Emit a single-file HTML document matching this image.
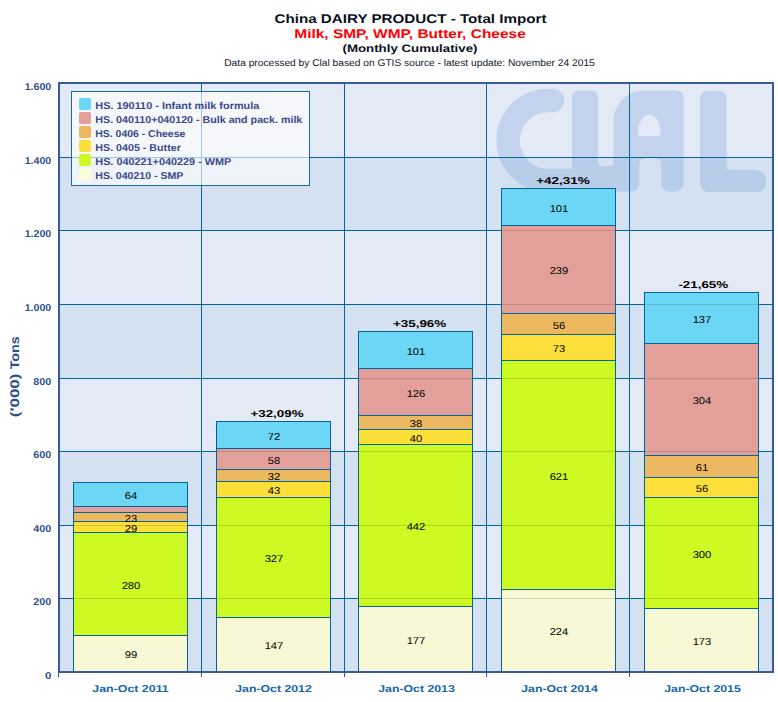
<!DOCTYPE html><html><head><meta charset="utf-8"><style>
html,body{margin:0;padding:0;background:#fff;width:778px;height:702px;overflow:hidden}
svg{display:block}
text{font-family:"Liberation Sans", sans-serif;text-rendering:geometricPrecision}
</style></head><body>
<svg width="778" height="702" viewBox="0 0 778 702">
<text x="410.5" y="22.7" font-size="12.6" fill="#0a0f1e" font-weight="bold" text-anchor="middle" textLength="272" lengthAdjust="spacingAndGlyphs" >China DAIRY PRODUCT - Total Import</text>
<text x="410" y="37.8" font-size="12.6" fill="#ff0000" font-weight="bold" text-anchor="middle" textLength="231.5" lengthAdjust="spacingAndGlyphs" >Milk, SMP, WMP, Butter, Cheese</text>
<text x="410" y="52.2" font-size="10.8" fill="#0a0f1e" font-weight="bold" text-anchor="middle" textLength="135" lengthAdjust="spacingAndGlyphs" >(Monthly Cumulative)</text>
<text x="409.5" y="66" font-size="9.8" fill="#10172a" font-weight="normal" text-anchor="middle" textLength="370.5" lengthAdjust="spacingAndGlyphs" >Data processed by Clal based on GTIS source - latest update: November 24 2015</text>
<rect x="60" y="84" width="712" height="73" fill="#e4eaf5" shape-rendering="crispEdges" />
<rect x="60" y="158" width="712" height="72" fill="#d3e1f0" shape-rendering="crispEdges" />
<rect x="60" y="231" width="712" height="73" fill="#e4eaf5" shape-rendering="crispEdges" />
<rect x="60" y="305" width="712" height="73" fill="#d3e1f0" shape-rendering="crispEdges" />
<rect x="60" y="379" width="712" height="72" fill="#e4eaf5" shape-rendering="crispEdges" />
<rect x="60" y="452" width="712" height="73" fill="#d3e1f0" shape-rendering="crispEdges" />
<rect x="60" y="526" width="712" height="72" fill="#e4eaf5" shape-rendering="crispEdges" />
<rect x="60" y="599" width="712" height="72" fill="#d3e1f0" shape-rendering="crispEdges" />
<g opacity="0.27" fill="#6f98d8">
<path d="M 552.5 100.6 L 548 100.6 A 39.9 39.9 0 0 0 548 180.4 L 575 180.4" fill="none" stroke="#6f98d8" stroke-width="23.5" stroke-linecap="round"/>
<path d="M 572 97 Q 572 90.5 578 90.5 L 592 90.5 Q 598 90.5 598 97 L 598 163 Q 598 166 601 166 L 610.5 166 Q 613.5 166 613.5 163 L 613.5 121 C 613.5 104.2 627.3 90.5 644 90.5 L 676 90.5 Q 683.7 90.5 683.7 98 L 683.7 181 Q 683.7 192 672.5 192 Q 661.2 192 661.2 181 L 661.2 164 Q 661.2 158 655 158 L 645.5 158 Q 639.3 158 639.3 164 L 639.3 183 Q 639.3 191.5 631 191.5 L 575 191.5 L 572 170 Z"/>
<path d="M 640.5 136 L 658 136 Q 660.5 136 660.5 133 C 660.5 124 656 114.8 649.25 114.8 C 642.5 114.8 638 124 638 133 Q 638 136 640.5 136 Z" fill="#e4eaf5" opacity="1"/>
<path d="M 700 99 Q 700 91 708 91 L 719 91 Q 726.7 91 726.7 99 L 726.7 167 Q 726.7 170 730 170 L 755 170 Q 766 170 766 181 Q 766 192 755 192 L 710 192 Q 700 192 700 182 Z"/>
</g>
<rect x="201" y="84" width="1" height="587" fill="#03669b" shape-rendering="crispEdges" />
<rect x="344" y="84" width="1" height="587" fill="#03669b" shape-rendering="crispEdges" />
<rect x="486" y="84" width="1" height="587" fill="#03669b" shape-rendering="crispEdges" />
<rect x="629" y="84" width="1" height="587" fill="#03669b" shape-rendering="crispEdges" />
<rect x="60" y="157" width="712" height="1" fill="#03669b" shape-rendering="crispEdges" />
<rect x="60" y="230" width="712" height="1" fill="#03669b" shape-rendering="crispEdges" />
<rect x="60" y="304" width="712" height="1" fill="#03669b" shape-rendering="crispEdges" />
<rect x="60" y="378" width="712" height="1" fill="#03669b" shape-rendering="crispEdges" />
<rect x="60" y="451" width="712" height="1" fill="#03669b" shape-rendering="crispEdges" />
<rect x="60" y="525" width="712" height="1" fill="#03669b" shape-rendering="crispEdges" />
<rect x="60" y="598" width="712" height="1" fill="#03669b" shape-rendering="crispEdges" />
<rect x="73" y="635" width="115" height="36" fill="#f8f8d4" shape-rendering="crispEdges" />
<rect x="73" y="532" width="115" height="103" fill="#cdfa22" shape-rendering="crispEdges" />
<rect x="73" y="521" width="115" height="11" fill="#fddf3a" shape-rendering="crispEdges" />
<rect x="73" y="512" width="115" height="9" fill="#ecb85f" shape-rendering="crispEdges" />
<rect x="73" y="506" width="115" height="6" fill="#e3a09b" shape-rendering="crispEdges" />
<rect x="73" y="482" width="115" height="24" fill="#6cd6f5" shape-rendering="crispEdges" />
<rect x="73" y="482" width="1" height="189" fill="#03649a" shape-rendering="crispEdges" />
<rect x="187" y="482" width="1" height="189" fill="#03649a" shape-rendering="crispEdges" />
<rect x="73" y="635" width="115" height="1" fill="#03649a" shape-rendering="crispEdges" />
<rect x="73" y="532" width="115" height="1" fill="#03649a" shape-rendering="crispEdges" />
<rect x="73" y="521" width="115" height="1" fill="#03649a" shape-rendering="crispEdges" />
<rect x="73" y="512" width="115" height="1" fill="#03649a" shape-rendering="crispEdges" />
<rect x="73" y="506" width="115" height="1" fill="#03649a" shape-rendering="crispEdges" />
<rect x="73" y="482" width="115" height="1" fill="#03649a" shape-rendering="crispEdges" />
<rect x="216" y="617" width="115" height="54" fill="#f8f8d4" shape-rendering="crispEdges" />
<rect x="216" y="497" width="115" height="120" fill="#cdfa22" shape-rendering="crispEdges" />
<rect x="216" y="481" width="115" height="16" fill="#fddf3a" shape-rendering="crispEdges" />
<rect x="216" y="469" width="115" height="12" fill="#ecb85f" shape-rendering="crispEdges" />
<rect x="216" y="448" width="115" height="21" fill="#e3a09b" shape-rendering="crispEdges" />
<rect x="216" y="421" width="115" height="27" fill="#6cd6f5" shape-rendering="crispEdges" />
<rect x="216" y="421" width="1" height="250" fill="#03649a" shape-rendering="crispEdges" />
<rect x="330" y="421" width="1" height="250" fill="#03649a" shape-rendering="crispEdges" />
<rect x="216" y="617" width="115" height="1" fill="#03649a" shape-rendering="crispEdges" />
<rect x="216" y="497" width="115" height="1" fill="#03649a" shape-rendering="crispEdges" />
<rect x="216" y="481" width="115" height="1" fill="#03649a" shape-rendering="crispEdges" />
<rect x="216" y="469" width="115" height="1" fill="#03649a" shape-rendering="crispEdges" />
<rect x="216" y="448" width="115" height="1" fill="#03649a" shape-rendering="crispEdges" />
<rect x="216" y="421" width="115" height="1" fill="#03649a" shape-rendering="crispEdges" />
<rect x="358" y="606" width="115" height="65" fill="#f8f8d4" shape-rendering="crispEdges" />
<rect x="358" y="444" width="115" height="162" fill="#cdfa22" shape-rendering="crispEdges" />
<rect x="358" y="429" width="115" height="15" fill="#fddf3a" shape-rendering="crispEdges" />
<rect x="358" y="415" width="115" height="14" fill="#ecb85f" shape-rendering="crispEdges" />
<rect x="358" y="368" width="115" height="47" fill="#e3a09b" shape-rendering="crispEdges" />
<rect x="358" y="331" width="115" height="37" fill="#6cd6f5" shape-rendering="crispEdges" />
<rect x="358" y="331" width="1" height="340" fill="#03649a" shape-rendering="crispEdges" />
<rect x="472" y="331" width="1" height="340" fill="#03649a" shape-rendering="crispEdges" />
<rect x="358" y="606" width="115" height="1" fill="#03649a" shape-rendering="crispEdges" />
<rect x="358" y="444" width="115" height="1" fill="#03649a" shape-rendering="crispEdges" />
<rect x="358" y="429" width="115" height="1" fill="#03649a" shape-rendering="crispEdges" />
<rect x="358" y="415" width="115" height="1" fill="#03649a" shape-rendering="crispEdges" />
<rect x="358" y="368" width="115" height="1" fill="#03649a" shape-rendering="crispEdges" />
<rect x="358" y="331" width="115" height="1" fill="#03649a" shape-rendering="crispEdges" />
<rect x="501" y="589" width="115" height="82" fill="#f8f8d4" shape-rendering="crispEdges" />
<rect x="501" y="360" width="115" height="229" fill="#cdfa22" shape-rendering="crispEdges" />
<rect x="501" y="334" width="115" height="26" fill="#fddf3a" shape-rendering="crispEdges" />
<rect x="501" y="313" width="115" height="21" fill="#ecb85f" shape-rendering="crispEdges" />
<rect x="501" y="225" width="115" height="88" fill="#e3a09b" shape-rendering="crispEdges" />
<rect x="501" y="188" width="115" height="37" fill="#6cd6f5" shape-rendering="crispEdges" />
<rect x="501" y="188" width="1" height="483" fill="#03649a" shape-rendering="crispEdges" />
<rect x="615" y="188" width="1" height="483" fill="#03649a" shape-rendering="crispEdges" />
<rect x="501" y="589" width="115" height="1" fill="#03649a" shape-rendering="crispEdges" />
<rect x="501" y="360" width="115" height="1" fill="#03649a" shape-rendering="crispEdges" />
<rect x="501" y="334" width="115" height="1" fill="#03649a" shape-rendering="crispEdges" />
<rect x="501" y="313" width="115" height="1" fill="#03649a" shape-rendering="crispEdges" />
<rect x="501" y="225" width="115" height="1" fill="#03649a" shape-rendering="crispEdges" />
<rect x="501" y="188" width="115" height="1" fill="#03649a" shape-rendering="crispEdges" />
<rect x="644" y="608" width="115" height="63" fill="#f8f8d4" shape-rendering="crispEdges" />
<rect x="644" y="497" width="115" height="111" fill="#cdfa22" shape-rendering="crispEdges" />
<rect x="644" y="477" width="115" height="20" fill="#fddf3a" shape-rendering="crispEdges" />
<rect x="644" y="455" width="115" height="22" fill="#ecb85f" shape-rendering="crispEdges" />
<rect x="644" y="343" width="115" height="112" fill="#e3a09b" shape-rendering="crispEdges" />
<rect x="644" y="292" width="115" height="51" fill="#6cd6f5" shape-rendering="crispEdges" />
<rect x="644" y="292" width="1" height="379" fill="#03649a" shape-rendering="crispEdges" />
<rect x="758" y="292" width="1" height="379" fill="#03649a" shape-rendering="crispEdges" />
<rect x="644" y="608" width="115" height="1" fill="#03649a" shape-rendering="crispEdges" />
<rect x="644" y="497" width="115" height="1" fill="#03649a" shape-rendering="crispEdges" />
<rect x="644" y="477" width="115" height="1" fill="#03649a" shape-rendering="crispEdges" />
<rect x="644" y="455" width="115" height="1" fill="#03649a" shape-rendering="crispEdges" />
<rect x="644" y="343" width="115" height="1" fill="#03649a" shape-rendering="crispEdges" />
<rect x="644" y="292" width="115" height="1" fill="#03649a" shape-rendering="crispEdges" />
<rect x="74" y="525" width="113" height="1" fill="rgba(10,40,0,0.16)" shape-rendering="crispEdges" />
<rect x="74" y="598" width="113" height="1" fill="rgba(10,40,0,0.16)" shape-rendering="crispEdges" />
<rect x="217" y="451" width="113" height="1" fill="rgba(10,40,0,0.16)" shape-rendering="crispEdges" />
<rect x="217" y="525" width="113" height="1" fill="rgba(10,40,0,0.16)" shape-rendering="crispEdges" />
<rect x="217" y="598" width="113" height="1" fill="rgba(10,40,0,0.16)" shape-rendering="crispEdges" />
<rect x="359" y="378" width="113" height="1" fill="rgba(10,40,0,0.16)" shape-rendering="crispEdges" />
<rect x="359" y="451" width="113" height="1" fill="rgba(10,40,0,0.16)" shape-rendering="crispEdges" />
<rect x="359" y="525" width="113" height="1" fill="rgba(10,40,0,0.16)" shape-rendering="crispEdges" />
<rect x="359" y="598" width="113" height="1" fill="rgba(10,40,0,0.16)" shape-rendering="crispEdges" />
<rect x="502" y="230" width="113" height="1" fill="rgba(10,40,0,0.16)" shape-rendering="crispEdges" />
<rect x="502" y="304" width="113" height="1" fill="rgba(10,40,0,0.16)" shape-rendering="crispEdges" />
<rect x="502" y="378" width="113" height="1" fill="rgba(10,40,0,0.16)" shape-rendering="crispEdges" />
<rect x="502" y="451" width="113" height="1" fill="rgba(10,40,0,0.16)" shape-rendering="crispEdges" />
<rect x="502" y="525" width="113" height="1" fill="rgba(10,40,0,0.16)" shape-rendering="crispEdges" />
<rect x="502" y="598" width="113" height="1" fill="rgba(10,40,0,0.16)" shape-rendering="crispEdges" />
<rect x="645" y="304" width="113" height="1" fill="rgba(10,40,0,0.16)" shape-rendering="crispEdges" />
<rect x="645" y="378" width="113" height="1" fill="rgba(10,40,0,0.16)" shape-rendering="crispEdges" />
<rect x="645" y="451" width="113" height="1" fill="rgba(10,40,0,0.16)" shape-rendering="crispEdges" />
<rect x="645" y="525" width="113" height="1" fill="rgba(10,40,0,0.16)" shape-rendering="crispEdges" />
<rect x="645" y="598" width="113" height="1" fill="rgba(10,40,0,0.16)" shape-rendering="crispEdges" />
<text x="131.0" y="658.2" font-size="10" fill="#000" font-weight="normal" text-anchor="middle" textLength="12.5" lengthAdjust="spacingAndGlyphs" >99</text>
<text x="131.0" y="588.7" font-size="10" fill="#000" font-weight="normal" text-anchor="middle" textLength="18.75" lengthAdjust="spacingAndGlyphs" >280</text>
<text x="131.0" y="531.7" font-size="10" fill="#000" font-weight="normal" text-anchor="middle" textLength="12.5" lengthAdjust="spacingAndGlyphs" >29</text>
<text x="131.0" y="521.7" font-size="10" fill="#000" font-weight="normal" text-anchor="middle" textLength="12.5" lengthAdjust="spacingAndGlyphs" >23</text>
<text x="131.0" y="499.2" font-size="10" fill="#000" font-weight="normal" text-anchor="middle" textLength="12.5" lengthAdjust="spacingAndGlyphs" >64</text>
<text x="274.0" y="649.2" font-size="10" fill="#000" font-weight="normal" text-anchor="middle" textLength="18.75" lengthAdjust="spacingAndGlyphs" >147</text>
<text x="274.0" y="562.2" font-size="10" fill="#000" font-weight="normal" text-anchor="middle" textLength="18.75" lengthAdjust="spacingAndGlyphs" >327</text>
<text x="274.0" y="494.2" font-size="10" fill="#000" font-weight="normal" text-anchor="middle" textLength="12.5" lengthAdjust="spacingAndGlyphs" >43</text>
<text x="274.0" y="480.2" font-size="10" fill="#000" font-weight="normal" text-anchor="middle" textLength="12.5" lengthAdjust="spacingAndGlyphs" >32</text>
<text x="274.0" y="463.7" font-size="10" fill="#000" font-weight="normal" text-anchor="middle" textLength="12.5" lengthAdjust="spacingAndGlyphs" >58</text>
<text x="274.0" y="439.7" font-size="10" fill="#000" font-weight="normal" text-anchor="middle" textLength="12.5" lengthAdjust="spacingAndGlyphs" >72</text>
<text x="416.0" y="643.7" font-size="10" fill="#000" font-weight="normal" text-anchor="middle" textLength="18.75" lengthAdjust="spacingAndGlyphs" >177</text>
<text x="416.0" y="530.2" font-size="10" fill="#000" font-weight="normal" text-anchor="middle" textLength="18.75" lengthAdjust="spacingAndGlyphs" >442</text>
<text x="416.0" y="441.7" font-size="10" fill="#000" font-weight="normal" text-anchor="middle" textLength="12.5" lengthAdjust="spacingAndGlyphs" >40</text>
<text x="416.0" y="427.2" font-size="10" fill="#000" font-weight="normal" text-anchor="middle" textLength="12.5" lengthAdjust="spacingAndGlyphs" >38</text>
<text x="416.0" y="396.7" font-size="10" fill="#000" font-weight="normal" text-anchor="middle" textLength="18.75" lengthAdjust="spacingAndGlyphs" >126</text>
<text x="416.0" y="354.7" font-size="10" fill="#000" font-weight="normal" text-anchor="middle" textLength="18.75" lengthAdjust="spacingAndGlyphs" >101</text>
<text x="559.0" y="635.2" font-size="10" fill="#000" font-weight="normal" text-anchor="middle" textLength="18.75" lengthAdjust="spacingAndGlyphs" >224</text>
<text x="559.0" y="479.7" font-size="10" fill="#000" font-weight="normal" text-anchor="middle" textLength="18.75" lengthAdjust="spacingAndGlyphs" >621</text>
<text x="559.0" y="352.2" font-size="10" fill="#000" font-weight="normal" text-anchor="middle" textLength="12.5" lengthAdjust="spacingAndGlyphs" >73</text>
<text x="559.0" y="328.7" font-size="10" fill="#000" font-weight="normal" text-anchor="middle" textLength="12.5" lengthAdjust="spacingAndGlyphs" >56</text>
<text x="559.0" y="274.2" font-size="10" fill="#000" font-weight="normal" text-anchor="middle" textLength="18.75" lengthAdjust="spacingAndGlyphs" >239</text>
<text x="559.0" y="211.7" font-size="10" fill="#000" font-weight="normal" text-anchor="middle" textLength="18.75" lengthAdjust="spacingAndGlyphs" >101</text>
<text x="702.0" y="644.7" font-size="10" fill="#000" font-weight="normal" text-anchor="middle" textLength="18.75" lengthAdjust="spacingAndGlyphs" >173</text>
<text x="702.0" y="557.7" font-size="10" fill="#000" font-weight="normal" text-anchor="middle" textLength="18.75" lengthAdjust="spacingAndGlyphs" >300</text>
<text x="702.0" y="492.2" font-size="10" fill="#000" font-weight="normal" text-anchor="middle" textLength="12.5" lengthAdjust="spacingAndGlyphs" >56</text>
<text x="702.0" y="471.2" font-size="10" fill="#000" font-weight="normal" text-anchor="middle" textLength="12.5" lengthAdjust="spacingAndGlyphs" >61</text>
<text x="702.0" y="404.2" font-size="10" fill="#000" font-weight="normal" text-anchor="middle" textLength="18.75" lengthAdjust="spacingAndGlyphs" >304</text>
<text x="702.0" y="322.7" font-size="10" fill="#000" font-weight="normal" text-anchor="middle" textLength="18.75" lengthAdjust="spacingAndGlyphs" >137</text>
<text x="250.4" y="417" font-size="10" fill="#000" font-weight="bold" text-anchor="start" textLength="53.2" lengthAdjust="spacingAndGlyphs" >+32,09%</text>
<text x="392.9" y="327" font-size="10" fill="#000" font-weight="bold" text-anchor="start" textLength="53.400000000000006" lengthAdjust="spacingAndGlyphs" >+35,96%</text>
<text x="536.1999999999999" y="184" font-size="10" fill="#000" font-weight="bold" text-anchor="start" textLength="53.7" lengthAdjust="spacingAndGlyphs" >+42,31%</text>
<text x="678.4" y="288" font-size="10" fill="#000" font-weight="bold" text-anchor="start" textLength="49.800000000000004" lengthAdjust="spacingAndGlyphs" >-21,65%</text>
<rect x="71.5" y="91.5" width="238" height="94" fill="rgba(255,255,255,0.62)" stroke="#1a6a9a" stroke-width="1"/>
<rect x="79" y="98" width="12" height="12" rx="2" fill="#6cd6f5"/>
<text x="95.3" y="108.9" font-size="10" fill="#39498c" font-weight="bold" text-anchor="start" textLength="164" lengthAdjust="spacingAndGlyphs" >HS. 190110 - Infant milk formula</text>
<rect x="79" y="112" width="12" height="12" rx="2" fill="#e3a09b"/>
<text x="95.3" y="122.9" font-size="10" fill="#39498c" font-weight="bold" text-anchor="start" textLength="207" lengthAdjust="spacingAndGlyphs" >HS. 040110+040120 - Bulk and pack. milk</text>
<rect x="79" y="126" width="12" height="12" rx="2" fill="#ecb85f"/>
<text x="95.3" y="136.9" font-size="10" fill="#39498c" font-weight="bold" text-anchor="start" textLength="90" lengthAdjust="spacingAndGlyphs" >HS. 0406 - Cheese</text>
<rect x="79" y="140" width="12" height="12" rx="2" fill="#fddf3a"/>
<text x="95.3" y="150.9" font-size="10" fill="#39498c" font-weight="bold" text-anchor="start" textLength="85.5" lengthAdjust="spacingAndGlyphs" >HS. 0405 - Butter</text>
<rect x="79" y="154" width="12" height="12" rx="2" fill="#cdfa22"/>
<text x="95.3" y="164.9" font-size="10" fill="#39498c" font-weight="bold" text-anchor="start" textLength="136" lengthAdjust="spacingAndGlyphs" >HS. 040221+040229 - WMP</text>
<rect x="79" y="168" width="12" height="12" rx="2" fill="#fcfcdc"/>
<text x="95.3" y="178.9" font-size="10" fill="#39498c" font-weight="bold" text-anchor="start" textLength="88" lengthAdjust="spacingAndGlyphs" >HS. 040210 - SMP</text>
<rect x="58" y="82" width="716" height="2" fill="#385a9f" shape-rendering="crispEdges" />
<rect x="58" y="671" width="716" height="2" fill="#385a9f" shape-rendering="crispEdges" />
<rect x="58" y="82" width="2" height="591" fill="#385a9f" shape-rendering="crispEdges" />
<rect x="772" y="82" width="2" height="591" fill="#385a9f" shape-rendering="crispEdges" />
<rect x="58" y="673" width="1" height="4" fill="#385a9f" shape-rendering="crispEdges" />
<rect x="201" y="673" width="1" height="4" fill="#385a9f" shape-rendering="crispEdges" />
<rect x="344" y="673" width="1" height="4" fill="#385a9f" shape-rendering="crispEdges" />
<rect x="486" y="673" width="1" height="4" fill="#385a9f" shape-rendering="crispEdges" />
<rect x="629" y="673" width="1" height="4" fill="#385a9f" shape-rendering="crispEdges" />
<text x="51.3" y="90.3" font-size="10.0" fill="#30508f" font-weight="bold" text-anchor="end" textLength="26.6" lengthAdjust="spacingAndGlyphs" >1.600</text>
<text x="51.3" y="164.3" font-size="10.0" fill="#30508f" font-weight="bold" text-anchor="end" textLength="26.6" lengthAdjust="spacingAndGlyphs" >1.400</text>
<text x="51.3" y="237.3" font-size="10.0" fill="#30508f" font-weight="bold" text-anchor="end" textLength="26.6" lengthAdjust="spacingAndGlyphs" >1.200</text>
<text x="51.3" y="311.3" font-size="10.0" fill="#30508f" font-weight="bold" text-anchor="end" textLength="26.6" lengthAdjust="spacingAndGlyphs" >1.000</text>
<text x="51.3" y="385.3" font-size="10.0" fill="#30508f" font-weight="bold" text-anchor="end" textLength="18" lengthAdjust="spacingAndGlyphs" >800</text>
<text x="51.3" y="458.3" font-size="10.0" fill="#30508f" font-weight="bold" text-anchor="end" textLength="18" lengthAdjust="spacingAndGlyphs" >600</text>
<text x="51.3" y="532.3" font-size="10.0" fill="#30508f" font-weight="bold" text-anchor="end" textLength="18" lengthAdjust="spacingAndGlyphs" >400</text>
<text x="51.3" y="605.3" font-size="10.0" fill="#30508f" font-weight="bold" text-anchor="end" textLength="18" lengthAdjust="spacingAndGlyphs" >200</text>
<text x="51.3" y="679.3" font-size="10.0" fill="#30508f" font-weight="bold" text-anchor="end" textLength="6.4" lengthAdjust="spacingAndGlyphs" >0</text>
<text x="0" y="0" font-size="12.5" font-weight="bold" fill="#2a4e93" text-anchor="middle" textLength="43.5" lengthAdjust="spacingAndGlyphs" transform="translate(19.1,395.4) rotate(-90)">('000)</text>
<text x="0" y="0" font-size="12.5" font-weight="bold" fill="#2a4e93" text-anchor="middle" textLength="33" lengthAdjust="spacingAndGlyphs" transform="translate(19.1,352.8) rotate(-90)">Tons</text>
<text x="130.5" y="692" font-size="10.0" fill="#1566aa" font-weight="bold" text-anchor="middle" textLength="76.5" lengthAdjust="spacingAndGlyphs" >Jan-Oct 2011</text>
<text x="273.5" y="692" font-size="10.0" fill="#1566aa" font-weight="bold" text-anchor="middle" textLength="76.5" lengthAdjust="spacingAndGlyphs" >Jan-Oct 2012</text>
<text x="416.5" y="692" font-size="10.0" fill="#1566aa" font-weight="bold" text-anchor="middle" textLength="76.5" lengthAdjust="spacingAndGlyphs" >Jan-Oct 2013</text>
<text x="559.5" y="692" font-size="10.0" fill="#1566aa" font-weight="bold" text-anchor="middle" textLength="76.5" lengthAdjust="spacingAndGlyphs" >Jan-Oct 2014</text>
<text x="702.5" y="692" font-size="10.0" fill="#1566aa" font-weight="bold" text-anchor="middle" textLength="76.5" lengthAdjust="spacingAndGlyphs" >Jan-Oct 2015</text>
</svg></body></html>
